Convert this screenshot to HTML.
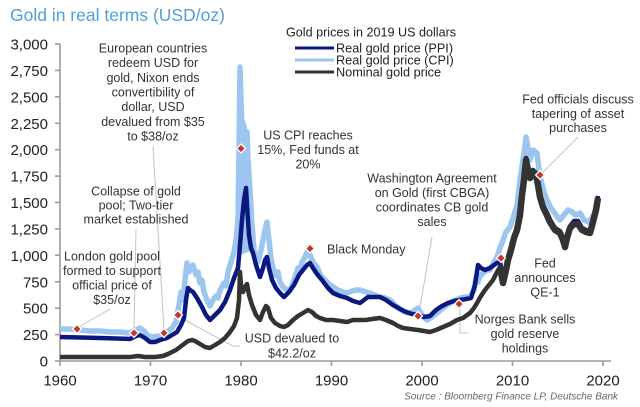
<!DOCTYPE html>
<html>
<head>
<meta charset="utf-8">
<style>
html,body{margin:0;padding:0;background:#fff;}
svg{display:block;}
text{font-family:"Liberation Sans",Arial,sans-serif;}
</style>
</head>
<body>
<svg width="640" height="407" viewBox="0 0 640 407" xmlns="http://www.w3.org/2000/svg">
<rect width="640" height="407" fill="#fff"/>
<text x="10" y="21" font-size="17.5" fill="#4f9fd8">Gold in real terms (USD/oz)</text>

<!-- axes -->
<g stroke="#9a9a9a" stroke-width="1.6" fill="none">
<line x1="60" y1="44" x2="60" y2="361"/>
<line x1="60" y1="361" x2="611" y2="361"/>
<line x1="55" y1="44" x2="60" y2="44"/>
<line x1="55" y1="70.4" x2="60" y2="70.4"/>
<line x1="55" y1="96.8" x2="60" y2="96.8"/>
<line x1="55" y1="123.3" x2="60" y2="123.3"/>
<line x1="55" y1="149.7" x2="60" y2="149.7"/>
<line x1="55" y1="176.1" x2="60" y2="176.1"/>
<line x1="55" y1="202.5" x2="60" y2="202.5"/>
<line x1="55" y1="228.9" x2="60" y2="228.9"/>
<line x1="55" y1="255.3" x2="60" y2="255.3"/>
<line x1="55" y1="281.8" x2="60" y2="281.8"/>
<line x1="55" y1="308.2" x2="60" y2="308.2"/>
<line x1="55" y1="334.6" x2="60" y2="334.6"/>
<line x1="55" y1="361" x2="60" y2="361"/>
<line x1="60" y1="361" x2="60" y2="366"/>
<line x1="150.5" y1="361" x2="150.5" y2="366"/>
<line x1="241" y1="361" x2="241" y2="366"/>
<line x1="331.5" y1="361" x2="331.5" y2="366"/>
<line x1="422" y1="361" x2="422" y2="366"/>
<line x1="512.5" y1="361" x2="512.5" y2="366"/>
<line x1="603" y1="361" x2="603" y2="366"/>
</g>
<g font-size="15" fill="#222" text-anchor="end">
<text x="48" y="49.5">3,000</text>
<text x="48" y="75.9">2,750</text>
<text x="48" y="102.3">2,500</text>
<text x="48" y="128.8">2,250</text>
<text x="48" y="155.2">2,000</text>
<text x="48" y="181.6">1,750</text>
<text x="48" y="208">1,500</text>
<text x="48" y="234.4">1,250</text>
<text x="48" y="260.8">1,000</text>
<text x="48" y="287.3">750</text>
<text x="48" y="313.7">500</text>
<text x="48" y="340.1">250</text>
<text x="48" y="366.5">0</text>
</g>
<g font-size="15" fill="#222" text-anchor="middle">
<text x="60" y="385.5">1960</text>
<text x="150.5" y="385.5">1970</text>
<text x="241" y="385.5">1980</text>
<text x="331.5" y="385.5">1990</text>
<text x="422" y="385.5">2000</text>
<text x="512.5" y="385.5">2010</text>
<text x="603" y="385.5">2020</text>
</g>

<!-- leader lines -->
<g stroke="#c4c4c4" stroke-width="1" fill="none">
<line x1="79" y1="327" x2="110" y2="309"/>
<line x1="136" y1="229" x2="134" y2="330"/>
<line x1="153" y1="146" x2="164" y2="330"/>
<polyline points="181,318 233,346 240,346"/>
<line x1="432" y1="237" x2="419" y2="313"/>
<polyline points="460,307 460,333 468,333"/>
<line x1="542" y1="173" x2="578" y2="137"/>
</g>

<!-- CPI spike fill -->
<polygon fill="#9cc6f0" points="236,240 237,200 238,130 239,67 241,67 242,105 243,125 245,120 247,128 249,150 250,185 252,220 254,250 240,255"/>

<!-- CPI light blue -->
<polyline fill="none" stroke="#9cc6f0" stroke-width="5.5" stroke-linejoin="round" points="60,329 70,329 80,330 90,331 100,331 110,332 120,332 130,333 136,330 140,328 144,331 148,336 153,337 158,336 163,334 167,332 172,328 176,322 179,305 181,292 183,300 185,280 187,263 189,272 191,268 193,265 196,275 198,272 200,283 202,280 204,292 207,300 210,306 213,300 216,296 218,298 220,290 224,283 226,286 228,272 231,262 234,252 236,240 238,220 239,150 240,67 241,100 242,130 243,145 245,140 247,132 248,160 250,190 252,225 254,250 256,258 258,262 261,250 263,240 265,230 267,222 269,240 271,258 273,268 276,276 278,272 280,282 283,287 287,290 290,290 294,280 298,268 300,270 302,262 305,257 308,250 310,255 313,262 317,267 321,276 325,280 329,284 333,287 338,290 343,292 347,293 352,291 356,290 360,290 366,292 372,294 380,297 385,298 390,300 395,305 400,309 405,312 410,313 414,311 418,308 422,315 427,320 432,317 437,313 442,309 447,305 452,302 456,300 460,298 465,297 470,297 474,290 476,278 478,282 480,276 483,273 487,270 490,270 494,262 497,257 500,248 503,240 506,232 510,227 514,215 517,205 520,180 523,160 526,137 528,148 530,160 533,150 537,153 539,170 541,180 544,192 547,200 551,208 556,215 560,220 564,215 568,210 572,212 576,215 580,213 584,220 588,222 592,218 595,212 598,198"/>

<!-- PPI dark blue -->
<polyline fill="none" stroke="#0b1882" stroke-width="4.5" stroke-linejoin="round" points="60,337 100,338 130,339 136,336 140,335 145,338 150,342 155,342 160,340 167,338 172,335 177,332 181,325 184,318 186,300 188,288 190,290 193,292 197,298 202,307 206,315 210,320 214,316 220,310 225,302 230,290 234,278 238,268 240,245 242,220 244,200 246,188 247,205 249,235 251,248 253,253 256,265 260,277 263,268 265,260 267,257 269,268 272,280 276,288 280,293 284,297 289,292 294,285 299,275 303,270 307,265 310,263 313,268 317,274 322,280 328,288 333,293 340,296 347,298 353,301 360,303 364,300 368,297 374,297 380,297 386,300 393,305 400,309 406,312 412,314 418,315 424,317 430,316 436,310 442,306 448,303 454,301 460,300 466,299 471,298 475,285 478,265 481,268 485,270 490,268 494,265 497,263 500,262 503,280 506,268 508,258 511,248 514,236 517,228 520,213 522,193 524,178 526,158 528,168 530,176 533,170 536,173 538,183 540,195 543,205 546,211 550,220 555,228 560,231 563,238 565,245 567,236 570,226 574,221 578,221 582,228 586,230 590,231 593,220 596,208 598,196"/>

<!-- Nominal black -->
<polyline fill="none" stroke="#333333" stroke-width="4.5" stroke-linejoin="round" points="60,357 100,357 130,357 138,356 145,357 155,357 163,356 168,354 172,352 176,350 180,347 184,344 188,341 192,340 195,341 200,344 205,347 210,348 215,345 220,342 225,338 230,332 234,326 237,318 239,300 240,272 241,285 243,292 245,287 247,284 249,295 252,305 256,315 260,320 263,312 266,306 268,308 271,318 275,323 280,326 284,327 288,325 293,320 298,316 303,313 308,310 312,312 316,316 320,318 326,320 333,320 340,321 347,322 353,320 360,320 366,320 372,319 380,318 386,320 393,323 398,326 403,328 410,329 418,330 424,331 430,332 436,330 443,327 450,324 457,320 463,318 470,313 474,308 477,303 481,296 485,290 489,285 493,280 497,272 500,267 503,283 506,270 508,260 511,250 514,238 517,230 520,215 522,195 524,180 526,160 528,170 530,178 533,172 536,175 538,185 540,197 543,207 546,213 550,222 555,230 560,233 563,240 565,247 567,238 570,228 574,224 578,224 582,230 586,232 590,233 593,222 596,210 598,198"/>
<polyline fill="none" stroke="#333333" stroke-width="6.5" stroke-linejoin="round" points="500,267 503,283 506,270 508,260 511,250 514,238 517,230 520,215 522,195 524,180 526,160 528,170 530,178 533,172 536,175 538,185 540,197 543,207 546,213 550,222 555,230 560,233 563,240 565,247 567,238 570,228 574,224 578,224 582,230 586,232 590,233 593,222 596,210 598,198"/>

<!-- markers -->
<g fill="#c0392b" stroke="#fff" stroke-width="1.3">
<polygon points="77,324.5 81.5,329 77,333.5 72.5,329"/>
<polygon points="134,328.5 138.5,333 134,337.5 129.5,333"/>
<polygon points="164,328.5 168.5,333 164,337.5 159.5,333"/>
<polygon points="178,310.5 182.5,315 178,319.5 173.5,315"/>
<polygon points="241,144 245.5,148.5 241,153 236.5,148.5"/>
<polygon points="310,244 314.5,248.5 310,253 305.5,248.5"/>
<polygon points="418,311.5 422.5,316 418,320.5 413.5,316"/>
<polygon points="459,299.5 463.5,304 459,308.5 454.5,304"/>
<polygon points="501,253.5 505.5,258 501,262.5 496.5,258"/>
<polygon points="540,170.5 544.5,175 540,179.5 535.5,175"/>
</g>

<!-- legend -->
<text x="286" y="36.5" font-size="12.6" fill="#222">Gold prices in 2019 US dollars</text>
<line x1="295" y1="48" x2="334" y2="48" stroke="#0b1882" stroke-width="3"/>
<line x1="295" y1="60" x2="334" y2="60" stroke="#9cc6f0" stroke-width="3"/>
<line x1="295" y1="72" x2="334" y2="72" stroke="#333" stroke-width="3"/>
<g font-size="12.7" fill="#222">
<text x="336" y="52.5">Real gold price (PPI)</text>
<text x="336" y="64.5">Real gold price (CPI)</text>
<text x="336" y="76.5">Nominal gold price</text>
</g>

<!-- annotations -->
<g font-size="12.5" fill="#333" text-anchor="middle">
<text x="153" y="52.5">European countries</text>
<text x="153" y="67.2">redeem USD for</text>
<text x="153" y="81.8">gold, Nixon ends</text>
<text x="153" y="96.5">convertibility of</text>
<text x="153" y="111.2">dollar, USD</text>
<text x="153" y="125.8">devalued from $35</text>
<text x="153" y="140.5">to $38/oz</text>

<text x="136" y="195.5">Collapse of gold</text>
<text x="136" y="209.5">pool; Two-tier</text>
<text x="136" y="223.5">market established</text>

<text x="112" y="260.5">London gold pool</text>
<text x="112" y="275">formed to support</text>
<text x="112" y="289.5">official price of</text>
<text x="112" y="304">$35/oz</text>

<text x="308" y="139.5">US CPI reaches</text>
<text x="308" y="154">15%, Fed funds at</text>
<text x="308" y="168.5">20%</text>

<text x="432" y="182.5">Washington Agreement</text>
<text x="432" y="197">on Gold (first CBGA)</text>
<text x="432" y="211.5">coordinates CB gold</text>
<text x="432" y="226">sales</text>

<text x="292" y="342.5">USD devalued to</text>
<text x="292" y="357.5">$42.2/oz</text>

<text x="525" y="323.5">Norges Bank sells</text>
<text x="525" y="338">gold reserve</text>
<text x="525" y="352.5">holdings</text>

<text x="545" y="267.5">Fed</text>
<text x="545" y="282">announces</text>
<text x="545" y="296.5">QE-1</text>

<text x="578" y="103.5">Fed officials discuss</text>
<text x="578" y="117.8">tapering of asset</text>
<text x="578" y="132">purchases</text>
</g>
<text x="327" y="253.5" font-size="12.5" fill="#333">Black Monday</text>

<text x="618" y="399.5" font-size="10" font-style="italic" fill="#666" text-anchor="end">Source : Bloomberg Finance LP, Deutsche Bank</text>
</svg>
</body>
</html>
